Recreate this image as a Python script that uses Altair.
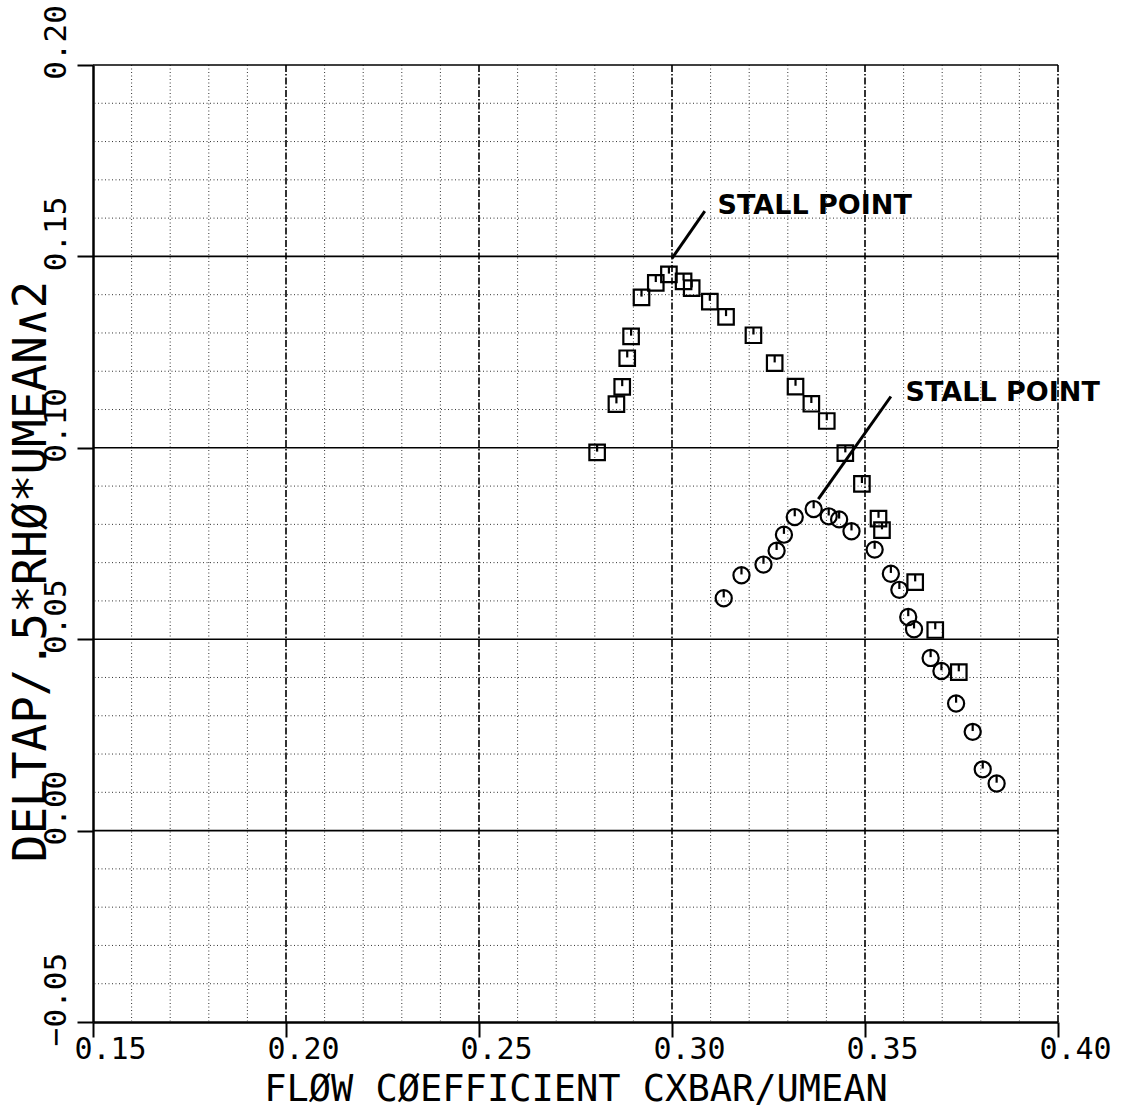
import altair as alt
import pandas as pd

# Measured points: flow coefficient (CXBAR/UMEAN) vs pressure-rise coefficient
sq_phi = [0.2806, 0.2856, 0.2871, 0.2884, 0.2894, 0.2921, 0.2958, 0.2992,
          0.3030, 0.3051, 0.3098, 0.3140, 0.3211, 0.3266, 0.3320, 0.3361,
          0.3401, 0.3449, 0.3492, 0.3535, 0.3544, 0.3630, 0.3682, 0.3743]
sq_psi = [0.0988, 0.1114, 0.1159, 0.1234, 0.1291, 0.1393, 0.1431, 0.1453,
          0.1435, 0.1417, 0.1382, 0.1342, 0.1294, 0.1221, 0.1160, 0.1115,
          0.1070, 0.0986, 0.0906, 0.0815, 0.0785, 0.0649, 0.0524, 0.0414]

ci_phi = [0.3134, 0.3180, 0.3237, 0.3271, 0.3290, 0.3318, 0.3367, 0.3406,
          0.3433, 0.3465, 0.3525, 0.3567, 0.3589, 0.3612, 0.3627, 0.3670,
          0.3698, 0.3736, 0.3779, 0.3805, 0.3841]
ci_psi = [0.0607, 0.0667, 0.0695, 0.0731, 0.0773, 0.0819, 0.0840, 0.0821,
          0.0813, 0.0782, 0.0734, 0.0671, 0.0629, 0.0558, 0.0526, 0.0451,
          0.0417, 0.0332, 0.0258, 0.0160, 0.0123]

# Stall-point callouts: leader line ends and label anchors
stall_line_1_x = [0.3000, 0.3085]
stall_line_1_y = [0.1495, 0.1618]
stall_line_2_x = [0.3379, 0.3567]
stall_line_2_y = [0.0866, 0.1134]
stall_text_x = [0.3118, 0.3605]
stall_text_y = [0.1612, 0.1122]
stall_text = ["STALL POINT", "STALL POINT"]

# Axes and grid
X_DOM = [0.15, 0.40]
Y_DOM = [-0.05, 0.20]
x_ticks = [0.15, 0.20, 0.25, 0.30, 0.35, 0.40]
y_ticks = [-0.05, 0.00, 0.05, 0.10, 0.15, 0.20]
x_major = [0.20, 0.25, 0.30, 0.35, 0.40]
y_major = [0.00, 0.05, 0.10, 0.15, 0.20]
x_minor = [round(0.15 + 0.01 * i, 2) for i in range(1, 25) if i % 5]
y_minor = [round(-0.05 + 0.01 * i, 2) for i in range(1, 25) if i % 5]

FONT = "DejaVu Sans Mono"
W, H = 965, 957

xs = alt.Scale(domain=X_DOM, nice=False, zero=False)
ys = alt.Scale(domain=Y_DOM, nice=False, zero=False)

x_axis = alt.Axis(
    values=x_ticks, format=".2f", title="FLØW CØEFFICIENT CXBAR/UMEAN",
    grid=False, domainColor="black", domainWidth=2.5,
    tickColor="black", tickWidth=2, tickSize=15,
    labelFont=FONT, labelFontSize=30, labelColor="black",
    labelOffset=17, labelPadding=21.5, labelBaseline="alphabetic", labelAlign="center",
    labelFlush=False, labelOverlap=False,
    titleFont=FONT, titleFontSize=37, titleFontWeight="normal", titleColor="black",
    titleBaseline="alphabetic", titleAlign="center", titleX=W / 2, titleY=78,
)
y_axis = alt.Axis(
    values=y_ticks, format=".2f", title="DELTAP/.5*RHØ*UMEAN∧2",
    grid=False, domainColor="black", domainWidth=2.5,
    tickColor="black", tickWidth=2, tickSize=16,
    labelFont=FONT, labelFontSize=31, labelColor="black",
    labelAngle=270, labelAlign="center", labelBaseline="alphabetic",
    labelOffset=-23, labelPadding=12, labelFlush=False, labelOverlap=False,
    titleFont=FONT, titleFontSize=46, titleFontWeight="normal", titleColor="black",
    titleAngle=270, titleBaseline="alphabetic", titleAlign="center",
    titleX=-48, titleY=506,
)

X = lambda f: alt.X(f, type="quantitative", scale=xs, axis=x_axis)
Y = lambda f: alt.Y(f, type="quantitative", scale=ys, axis=y_axis)

minor_v = alt.Chart(pd.DataFrame({"v": x_minor})).mark_rule(
    color="#333333", strokeWidth=1, strokeDash=[1, 2.5]
).encode(x=X("v"))
minor_h = alt.Chart(pd.DataFrame({"v": y_minor})).mark_rule(
    color="#333333", strokeWidth=1, strokeDash=[1, 2.5]
).encode(y=Y("v"))
major_v = alt.Chart(pd.DataFrame({"v": x_major})).mark_rule(
    color="black", strokeWidth=1.6, strokeDash=[7, 2, 1.5, 2]
).encode(x=X("v"))
major_h = alt.Chart(pd.DataFrame({"v": y_major})).mark_rule(
    color="black", strokeWidth=1.6
).encode(y=Y("v"))

sq_df = pd.DataFrame({"phi": sq_phi, "psi": sq_psi})
ci_df = pd.DataFrame({"phi": ci_phi, "psi": ci_psi})

sym = dict(filled=False, stroke="black", strokeWidth=2.2, opacity=1)
squares = alt.Chart(sq_df).mark_point(shape="square", size=240, **sym).encode(
    x=X("phi"), y=Y("psi"))
sq_ticks = alt.Chart(sq_df).mark_point(shape="M0,-1L0,-0.1", size=240, **sym).encode(
    x=X("phi"), y=Y("psi"))
circles = alt.Chart(ci_df).mark_point(shape="circle", size=260, **sym).encode(
    x=X("phi"), y=Y("psi"))
ci_ticks = alt.Chart(ci_df).mark_point(shape="M0,-1L0,-0.1", size=260, **sym).encode(
    x=X("phi"), y=Y("psi"))

lead_df = pd.DataFrame({
    "x": [stall_line_1_x[0], stall_line_2_x[0]],
    "x2": [stall_line_1_x[1], stall_line_2_x[1]],
    "y": [stall_line_1_y[0], stall_line_2_y[0]],
    "y2": [stall_line_1_y[1], stall_line_2_y[1]],
})
leaders = alt.Chart(lead_df).mark_rule(color="black", strokeWidth=3).encode(
    x=X("x"), x2="x2", y=Y("y"), y2="y2")

txt_df = pd.DataFrame({"x": stall_text_x, "y": stall_text_y, "t": stall_text})
labels = alt.Chart(txt_df).mark_text(
    align="left", baseline="alphabetic", font="DejaVu Sans", fontSize=27,
    fontWeight="bold", color="black"
).encode(x=X("x"), y=Y("y"), text="t:N")

chart = alt.layer(
    minor_v, minor_h, major_v, major_h,
    squares, sq_ticks, circles, ci_ticks, leaders, labels,
).properties(
    width=W, height=H,
    autosize=alt.AutoSizeParams(type="none"),
    padding={"left": 93, "top": 65, "right": 63, "bottom": 87},
    background="white",
).configure_view(stroke=None)

chart.save("out.html", embed_options={"renderer": "svg", "actions": False})
